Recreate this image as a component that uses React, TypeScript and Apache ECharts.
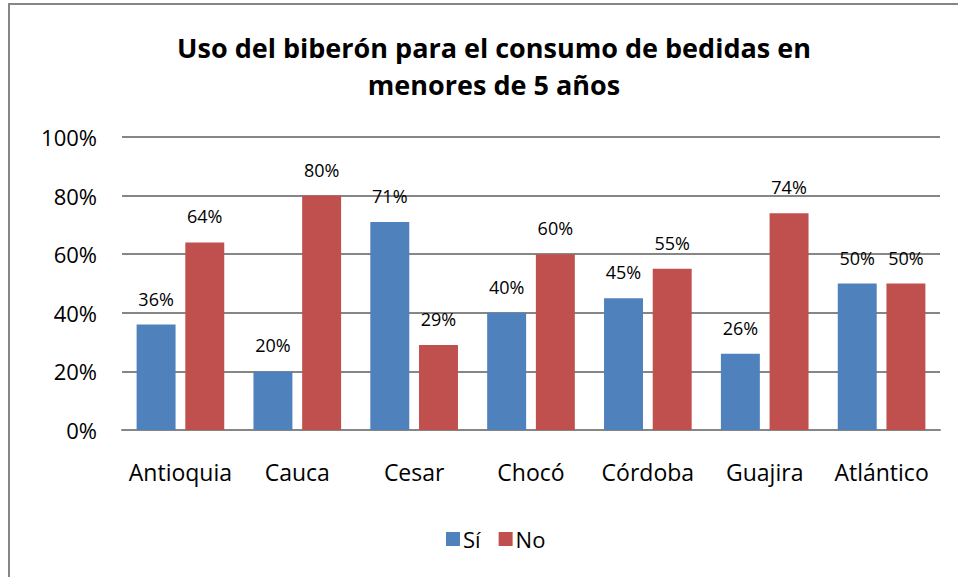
import React, { useEffect, useRef } from "react";
import * as echarts from "echarts";

const categories = ["Antioquia", "Cauca", "Cesar", "Chocó", "Córdoba", "Guajira", "Atlántico"];
const siValues = [36, 20, 71, 40, 45, 26, 50];
const noValues = [64, 80, 29, 60, 55, 74, 50];
const seriesNames = ["Sí", "No"];
const titleText = "Uso del biberón para el consumo de bedidas en\nmenores de 5 años";

const FONT = '"Open Sans", "Liberation Sans", sans-serif';

export default function App() {
  const ref = useRef<HTMLDivElement>(null);
  useEffect(() => {
    document.body.style.margin = "0";
    const chart = echarts.init(ref.current!, null, { renderer: "svg" });
    const labelStyle = {
      show: true,
      position: "top" as const,
      distance: 17,
      fontSize: 18,
      fontFamily: FONT,
      color: "#000",
      formatter: (p: any) => p.value + "%",
    };
    chart.setOption({
      animation: false,
      backgroundColor: "#fff",
      textStyle: { fontFamily: FONT },
      title: {
        text: titleText,
        left: 489,
        top: 24,
        textAlign: "center",
        textStyle: {
          fontSize: 27,
          fontWeight: "bold",
          fontFamily: FONT,
          color: "#000",
          lineHeight: 37,
        },
      },
      graphic: [
        {
          type: "rect",
          shape: { x: 9, y: 4, width: 1000, height: 700 },
          style: { fill: "none", stroke: "#868686", lineWidth: 2 },
          silent: true,
          z: -1,
        },
      ],
      legend: {
        data: seriesNames,
        left: 441,
        top: 523,
        itemWidth: 14,
        itemHeight: 14,
        itemGap: 18,
        icon: "rect",
        textStyle: { fontSize: 22, fontFamily: FONT, color: "#000", padding: [0, 0, 0, -2] },
      },
      grid: { left: 122, right: 18, top: 137, bottom: 147, containLabel: false },
      xAxis: {
        type: "category",
        data: categories,
        axisLine: { show: true, lineStyle: { color: "#868686", width: 2 } },
        axisTick: { show: false },
        axisLabel: { interval: 0, fontSize: 23, fontFamily: FONT, color: "#000", margin: 30 },
      },
      yAxis: {
        type: "value",
        min: 0,
        max: 100,
        interval: 20,
        axisLine: { show: false },
        axisTick: { show: false },
        axisLabel: {
          fontSize: 22,
          fontFamily: FONT,
          color: "#000",
          margin: 25,
          formatter: (v: number) => v + "%",
        },
        splitLine: { lineStyle: { color: "#868686", width: 2 } },
      },
      series: [
        {
          name: seriesNames[0],
          type: "bar",
          data: siValues,
          barCategoryGap: "25%",
          barGap: "25%",
          itemStyle: { color: "#4F81BD" },
          label: labelStyle,
        },
        {
          name: seriesNames[1],
          type: "bar",
          data: noValues,
          barCategoryGap: "25%",
          barGap: "25%",
          itemStyle: { color: "#C0504D" },
          label: labelStyle,
        },
      ],
    });
    return () => chart.dispose();
  }, []);
  return <div ref={ref} style={{ width: 958, height: 577, position: "absolute", left: 0, top: 0 }} />;
}
